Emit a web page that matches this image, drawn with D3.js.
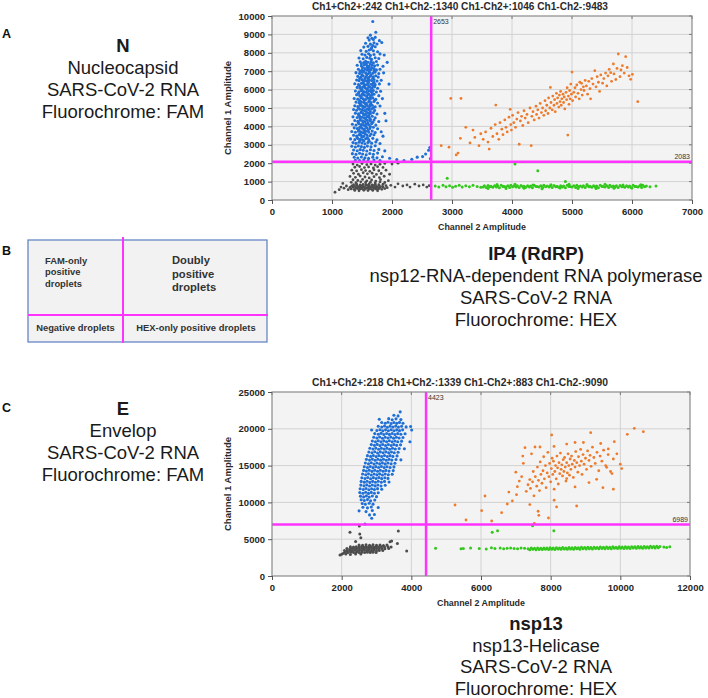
<!DOCTYPE html>
<html><head><meta charset="utf-8">
<script src="https://cdn.jsdelivr.net/npm/d3@7"></script>
<style>body{margin:0;background:#fff}svg{display:block}</style>
</head><body>
<svg id="c" width="708" height="698"></svg>
<script>
// ---------- DATA ----------
const xTicksA = [0,1000,2000,3000,4000,5000,6000,7000];
const yTicksA = [0,1000,2000,3000,4000,5000,6000,7000,8000,9000,10000];
const xTicksC = [0,2000,4000,6000,8000,10000,12000];
const yTicksC = [0,5000,10000,15000,20000,25000];
const countsA = [242,1340,1046,9483];   // Ch1+Ch2+, Ch1+Ch2-, Ch1-Ch2+, Ch1-Ch2-
const countsC = [218,1339,883,9090];
const thresholdsA = [2653,2083];        // Ch2 threshold, Ch1 threshold
const thresholdsC = [4423,6989];

// Plot A droplets [ch2, ch1, ch2, ch1, ...]
const aNeg = [1320,600,1370,580,1420,620,1460,590,1500,610,1540,570,1580,630,1620,600,1660,580,1700,620,1740,590,1780,610,1830,580,1880,620,
1300,680,1350,700,1400,660,1440,690,1480,670,1520,710,1560,650,1600,690,1640,670,1680,700,1720,660,1760,690,1800,680,1850,700,1920,670,
1330,760,1380,740,1420,780,1460,750,1500,770,1540,730,1580,790,1620,760,1660,740,1700,780,1740,750,1790,770,1840,740,1900,780,
1360,840,1410,860,1470,820,1520,850,1570,830,1620,870,1670,820,1720,850,1780,830,1850,860,
1380,520,1450,500,1530,530,1600,510,1680,520,1760,500,
1350,1950,1420,1900,1500,1980,1580,1920,1650,1960,1720,1900,1800,1940,1880,1990,
1380,1780,1460,1820,1540,1760,1610,1800,1690,1740,1760,1810,1850,1770,
1330,1620,1410,1580,1490,1650,1560,1600,1630,1560,1700,1640,1780,1590,1900,1620,
1360,1450,1440,1400,1520,1480,1590,1420,1670,1460,1740,1390,1820,1440,
1300,1280,1390,1230,1470,1300,1550,1250,1620,1200,1700,1270,1790,1220,1870,1290,
1350,1100,1430,1060,1510,1120,1580,1040,1660,1090,1730,1030,1810,1110,1940,1050,
1320,960,1400,940,1480,990,1560,950,1640,970,1720,930,1800,980,1880,950,
1050,420,1120,560,1180,900,1200,640,1240,760,1270,560,1150,700,
1980,800,2050,700,2100,880,2180,760,2250,820,2300,700,2380,860,2450,760,2520,820,2580,700,2620,780,2000,1950,2100,2000,1960,1400];

const aCh2 = [2720,760,2780,700,2850,800,2900,720,2960,780,3010,690,3060,750,3120,800,3170,710,3230,770,3290,720,3350,800,3420,740,3480,690,
3520,700,3570,680,3630,720,3680,690,3740,710,3790,670,3850,730,3900,700,3960,685,4010,715,
4070,700,4120,680,4180,720,4230,690,4290,710,4340,670,4400,730,4450,700,4510,685,4560,715,
4620,700,4670,680,4730,720,4780,690,4840,710,4890,670,4950,730,5000,700,5060,685,5110,715,
5170,700,5220,680,5280,720,5330,690,5390,710,5440,670,5500,730,5550,700,5610,685,5660,715,
5720,700,5770,680,5830,720,5880,690,5940,710,5990,670,6050,730,6100,700,6160,685,6210,715,
3540,770,3600,790,3650,750,3710,780,3760,760,3820,800,3870,740,3930,775,3980,795,4040,755,
4090,770,4150,790,4200,750,4260,780,4310,760,4370,800,4420,740,4480,775,4530,795,4590,755,
4640,770,4700,790,4750,750,4810,780,4860,760,4920,800,4970,740,5030,775,5080,795,5140,755,
5190,770,5250,790,5300,750,5360,780,5410,760,5470,800,5520,740,5580,775,5630,795,5690,755,
5740,770,5800,790,5850,750,5910,780,5960,760,6020,800,6070,740,6130,775,6180,795,6240,755,
3600,630,3750,840,3900,620,4050,850,4200,640,4350,820,4500,610,4650,830,4800,650,4950,860,5100,630,5250,840,5400,620,5550,850,5700,640,5850,820,6000,650,6150,830,6300,720,6400,760,
2920,1180,4050,1960,4430,1590,4890,1000];

const aDouble = [2820,2950,2950,2870,3070,2450,3100,2550,3140,3350,3230,3950,2980,5520,3150,5520,3300,3100,3380,3400,3450,2950,3480,3600,3350,3800,
3520,3300,3560,3700,3600,3150,3620,2770,3650,3900,3680,3450,3720,4100,3730,5160,3750,3600,3780,3300,3800,4200,3830,3850,3850,3550,3880,4350,3900,3950,3920,3700,3950,4500,3970,4930,3980,4100,3990,3800,
4010,4600,4030,4200,4060,3950,4080,4400,4100,4750,4120,3030,4140,4300,4160,4550,4180,4050,4200,4850,4220,4450,4250,4650,4270,4200,4300,5000,4320,2950,4330,4550,4350,4800,4370,4350,4400,5100,4410,4650,4430,4900,4450,4450,4470,5250,4490,4750,
4510,5000,4530,4600,4550,5400,4560,4850,4580,5150,4600,4700,4610,5550,4630,5000,4640,6120,4650,5300,4670,4900,4680,5650,4700,5150,4710,5450,4720,4800,4740,5800,4750,5250,4760,5550,4780,5050,4790,5700,4800,5350,4810,5900,4820,5150,4830,5500,4850,5750,4860,5300,4870,5600,4880,4950,4900,5850,4910,5450,4920,6100,4930,3530,4940,5650,4950,5200,4960,5950,4970,5500,4980,6300,4990,5750,
5000,6950,5010,5400,5030,5850,5050,6100,5060,5600,5080,6250,5100,5800,5120,5500,5130,6400,5150,6000,5160,6340,5170,5700,5190,6150,5200,5950,5220,6500,5240,6200,5260,5750,5280,6450,5300,6050,5310,5500,5330,6600,5350,6300,5380,7030,5400,6150,5420,6700,5440,6400,5460,5900,5480,6800,
5510,6350,5530,6600,5560,6900,5580,6200,5600,6750,5620,7100,5645,6920,5660,6450,5690,7390,5700,6850,5730,6550,5750,7150,5772,7935,5800,6700,5816,7065,5840,7300,5870,6900,5895,7790,5920,7200,5950,6750,5978,6560,6006,6830,6096,5345];

const aCh1 = [1680,9700,1730,9120,1640,8960,1600,8820,1665,8790,1720,8840,1620,8690,1690,8720,1790,8660,
1560,8520,1640,8470,1700,8540,1750,8480,1830,8560,1530,8310,1600,8350,1660,8280,1720,8330,1680,8390,
1480,8120,1570,8080,1620,8150,1690,8110,1760,8060,1650,8190,1500,7920,1550,7880,1610,7950,1640,7860,1700,7910,1800,7940,1870,7880,
1450,7720,1520,7680,1580,7750,1630,7700,1660,7640,1720,7730,1780,7690,1470,7510,1530,7470,1560,7540,1600,7490,1650,7520,1690,7460,1740,7530,1920,7480,
1420,7320,1490,7280,1540,7340,1590,7300,1620,7260,1670,7330,1710,7290,1760,7340,1850,7270,
1440,7110,1500,7080,1550,7140,1580,7060,1610,7120,1650,7090,1700,7150,1740,7070,1800,7110,
1400,6920,1460,6880,1510,6940,1560,6900,1600,6860,1630,6930,1680,6890,1720,6950,1780,6870,1860,6910,
1430,6720,1480,6680,1520,6740,1570,6700,1610,6660,1640,6730,1690,6690,1730,6750,1770,6680,
1410,6520,1450,6480,1500,6540,1540,6500,1580,6460,1620,6530,1660,6490,1700,6550,1750,6470,1820,6510,
1380,6320,1440,6280,1490,6340,1530,6300,1570,6260,1600,6330,1650,6290,1690,6350,1720,6270,1790,6310,1950,6300,
1420,6120,1470,6080,1510,6140,1550,6100,1590,6060,1630,6130,1670,6090,1710,6150,1760,6070,
1390,5920,1450,5880,1490,5940,1530,5900,1570,5860,1610,5930,1650,5890,1690,5950,1740,5870,1810,5910,
1410,5720,1460,5680,1500,5740,1540,5700,1580,5660,1620,5730,1660,5690,1700,5750,1780,5670,
1370,5520,1430,5480,1480,5540,1520,5500,1560,5460,1600,5530,1640,5490,1680,5550,1730,5470,1840,5510,
1400,5320,1450,5280,1490,5340,1530,5300,1570,5260,1610,5330,1650,5290,1700,5350,1760,5270,
1380,5120,1430,5080,1470,5140,1510,5100,1550,5060,1590,5130,1630,5090,1670,5150,1720,5070,1800,5110,
1360,4920,1410,4880,1460,4940,1500,4900,1540,4860,1580,4930,1620,4890,1660,4950,1710,4870,
1390,4720,1440,4680,1480,4740,1520,4700,1560,4660,1600,4730,1640,4690,1690,4750,1750,4670,1880,4710,
1350,4520,1420,4480,1460,4540,1500,4500,1540,4460,1580,4530,1620,4490,1670,4550,1720,4470,
1380,4320,1430,4280,1470,4340,1510,4300,1550,4260,1590,4330,1640,4290,1700,4350,1780,4270,1900,4310,
1340,4120,1400,4080,1450,4140,1490,4100,1530,4060,1570,4130,1610,4090,1660,4150,1730,4070,
1370,3920,1420,3880,1460,3940,1500,3900,1540,3860,1580,3930,1630,3890,1690,3950,1760,3870,
1330,3720,1390,3680,1440,3740,1480,3700,1520,3660,1560,3730,1610,3690,1670,3750,1720,3670,1820,3710,
1360,3520,1410,3480,1450,3540,1490,3500,1530,3460,1580,3530,1630,3490,1700,3550,1850,3470,
1310,3320,1380,3280,1430,3340,1470,3300,1510,3260,1560,3330,1610,3290,1680,3350,1750,3270,
1350,3120,1400,3080,1450,3140,1500,3100,1550,3060,1600,3130,1660,3090,1730,3150,1800,3070,
1330,2920,1390,2880,1440,2940,1490,2900,1540,2860,1590,2930,1650,2890,1720,2950,
1360,2720,1420,2680,1470,2740,1520,2700,1580,2660,1640,2730,1700,2690,1780,2750,1880,2670,
1340,2520,1400,2480,1460,2540,1510,2500,1570,2460,1630,2530,1690,2490,1760,2550,
1370,2320,1430,2280,1490,2340,1550,2300,1610,2260,1680,2330,1750,2290,1840,2350,1960,2270,
1390,2160,1460,2140,1530,2180,1600,2130,1700,2170,1800,2150,
2080,2200,2200,2150,2330,2210,2420,2330,2510,2360,2560,2500,2610,2700,2630,2850,2640,2250,
1490,7400,1570,7410,1640,7390,1510,7200,1590,7210,1660,7190,1470,7000,1530,7010,1620,6990,1700,7020,
1500,6800,1580,6810,1650,6790,1460,6600,1550,6610,1600,6590,1680,6620,1520,6400,1610,6410,1700,6390,
1460,6200,1540,6210,1610,6190,1680,6220,1500,6000,1580,6010,1650,5990,1440,5800,1520,5810,1600,5790,1670,5820,
1490,5600,1580,5610,1640,5590,1460,5400,1540,5410,1620,5390,1710,5420,1480,5200,1560,5210,1640,5190,
1440,5000,1520,5010,1610,4990,1690,5020,1490,4800,1570,4810,1640,4790,1450,4600,1530,4610,1610,4590,
1470,4400,1560,4410,1640,4390,1440,4200,1520,4210,1600,4190,1680,4220,1480,4000,1560,4010,1640,3990,
1450,3800,1530,3810,1600,3790,1470,3600,1550,3610,1650,3590,1420,3400,1500,3410,1590,3390,1460,3200,1530,3210,1620,3190];

// Plot C droplets
const cNeg = [2500,4220,2600,4180,2700,4240,2800,4190,2900,4230,3000,4170,3100,4220,3200,4160,3300,4210,
2250,3970,2340,3930,2420,3990,2500,3940,2570,3980,2640,3920,2710,3970,2780,3930,2850,3990,2920,3940,2990,3980,3060,3930,3140,3970,3230,3940,3330,3990,3420,3950,
2150,3720,2230,3680,2300,3730,2370,3690,2440,3740,2510,3680,2580,3720,2650,3690,2720,3740,2790,3680,2860,3730,2930,3690,3000,3740,3070,3680,3150,3720,3240,3700,3350,3750,
2080,3470,2160,3430,2230,3480,2300,3440,2370,3490,2440,3430,2510,3470,2580,3440,2650,3490,2720,3430,2790,3480,2860,3440,2930,3490,3000,3430,3080,3470,3180,3450,
2100,3220,2180,3180,2260,3230,2340,3190,2420,3240,2500,3180,2580,3220,2660,3190,2740,3240,2820,3180,2900,3230,2990,3200,
2000,2950,2120,2980,2250,2920,2400,2990,2550,3000,
2239,5940,2507,6790,2520,5700,2550,5200,3388,4660,3435,4750,3627,6114,3867,3400,1952,2850,2050,3100,3600,4400,2400,4700];

const cCh2 = [4697,3760,5426,3700,5493,3740,5700,3800,5950,3720,6150,3680,6300,3850,6400,3740,6550,3800,6650,3700,6750,3760,6850,3820,6950,3740,7050,3690,7150,3800,7250,3760,7350,3700,
7400,3580,7490,3620,7580,3570,7670,3610,7760,3600,7850,3640,7940,3590,8030,3650,8120,3610,8210,3660,
8300,3620,8390,3670,8480,3630,8570,3680,8660,3640,8750,3690,8840,3650,8930,3700,9020,3660,9110,3710,
9200,3680,9290,3720,9380,3690,9470,3740,9560,3700,9650,3750,9740,3710,9830,3760,9920,3730,10010,3770,
10100,3740,10190,3780,10280,3750,10370,3800,10460,3760,10550,3810,10640,3780,10730,3820,10820,3790,10910,3840,11000,3810,11090,3850,
7445,3790,7535,3760,7625,3810,7715,3770,7805,3820,7895,3790,7985,3840,8075,3800,8165,3850,8255,3810,
8345,3860,8435,3820,8525,3870,8615,3840,8705,3880,8795,3850,8885,3900,8975,3860,9065,3910,9155,3870,
9245,3920,9335,3880,9425,3930,9515,3900,9605,3940,9695,3910,9785,3960,9875,3920,9965,3970,10055,3930,
10145,3980,10235,3950,10325,3990,10415,3960,10505,4010,10595,3970,10685,4020,10775,3990,10865,4030,10955,4000,11045,4040,11135,4000,
11250,3950,11420,3980,11330,3880,
6322,5933,6475,6160,7480,6840,8092,6160];

const cDouble = [10401,20060,10660,19610,10200,19250,9149,19470,8029,19160,7263,17430,7550,17530,7693,17530,8096,17600,8460,17930,8700,18140,8940,18140,9436,18000,9827,18250,9654,17260,
7215,15310,7167,13490,7044,12130,6114,10870,5254,9650,5569,7610,6019,8880,6306,7470,7530,7160,7937,7880,8460,13240,8746,9510,9320,13130,9608,14770,10040,14590,9760,13910,
6593,8610,6754,9780,7020,11050,7400,9700,7640,8800,7660,8240,8170,9380,
7300,11500,7350,12400,7400,13100,7420,11900,7480,12800,7500,14200,7520,10900,7560,13500,7600,12200,7620,14800,
7650,13000,7680,11600,7700,15500,7720,13800,7750,12600,7780,14300,7800,16200,7820,13200,7850,15000,7870,12000,
7900,14000,7920,16800,7950,13500,7970,15300,8000,12800,8020,14600,8040,16000,8060,13800,8080,15600,8100,11800,
8120,14200,8140,15000,8160,13200,8180,16300,8200,14700,8220,12500,8240,15400,8260,13900,8280,16700,8300,14500,
8320,15100,8340,13600,8360,15800,8380,14200,8400,16100,8420,14800,8440,12900,8460,15400,8480,14000,8500,16600,
8520,15000,8540,13700,8560,15900,8580,14500,8600,16300,8620,15200,8650,13400,8680,15700,8700,14800,8720,16900,
8750,15400,8780,14100,8800,16200,8830,15000,8860,17200,8880,15600,8900,13800,8930,16500,8960,15200,9000,16000,
9030,14500,9060,17000,9100,15700,9130,16400,9160,14900,9200,17500,9240,16100,9280,15300,9330,16800,9380,14300,
9420,16300,9470,15600,9520,17100,9580,15000,9650,16500,9720,14200,9800,15900,9900,16600,10000,15200,6900,10200,
7100,12900,7000,14100,6800,11400,7200,16300,7450,16600,8100,10300,8700,12100,9100,12700,9500,12000,9800,11800];

const cCh1 = [3680,22300,3500,21850,3620,21750,
3080,21300,3350,21380,3450,21220,3560,21350,3700,21250,
3150,20850,3250,20750,3330,20880,3420,20720,3500,20860,3580,20740,3660,20870,3760,20760,
3050,20350,3150,20250,3230,20380,3310,20220,3390,20360,3470,20240,3550,20370,3630,20230,3720,20350,3850,20260,3980,20320,
2860,19840,3010,19760,3100,19880,3180,19720,3260,19860,3340,19740,3420,19870,3500,19730,3580,19850,3660,19750,3750,19860,4010,19840,
2950,19350,3050,19250,3130,19380,3210,19220,3290,19360,3370,19240,3450,19370,3530,19230,3610,19350,3700,19260,3820,19320,
2920,18850,3010,18750,3090,18880,3170,18720,3250,18860,3330,18740,3410,18870,3490,18730,3570,18850,3650,18750,3760,18820,
2880,18350,2970,18250,3050,18380,3130,18220,3210,18360,3290,18240,3370,18370,3450,18230,3530,18350,3610,18250,3720,18320,3960,18250,
2850,17850,2940,17750,3020,17880,3100,17720,3180,17860,3260,17740,3340,17870,3420,17730,3500,17850,3580,17750,3690,17820,
2810,17350,2900,17250,2980,17380,3060,17220,3140,17360,3220,17240,3300,17370,3380,17230,3460,17350,3540,17250,3650,17320,3800,17280,
2780,16850,2870,16750,2950,16880,3030,16720,3110,16860,3190,16740,3270,16870,3350,16730,3430,16850,3510,16750,3620,16820,
2740,16350,2830,16250,2910,16380,2990,16220,3070,16360,3150,16240,3230,16370,3310,16230,3390,16350,3470,16250,3590,16320,
2710,15850,2800,15750,2880,15880,2960,15720,3040,15860,3120,15740,3200,15870,3280,15730,3360,15850,3440,15750,3560,15820,3700,15780,
2680,15350,2770,15250,2850,15380,2930,15220,3010,15360,3090,15240,3170,15370,3250,15230,3330,15350,3420,15250,3530,15320,
2650,14850,2740,14750,2820,14880,2900,14720,2980,14860,3060,14740,3140,14870,3220,14730,3300,14850,3390,14750,3500,14820,
2630,14350,2710,14250,2790,14380,2870,14220,2950,14360,3030,14240,3110,14370,3190,14230,3270,14350,3360,14250,3480,14320,
2600,13850,2690,13750,2770,13880,2850,13720,2930,13860,3010,13740,3090,13870,3170,13730,3250,13850,3340,13750,3450,13820,
2580,13350,2670,13250,2750,13380,2830,13220,2910,13360,2990,13240,3070,13370,3150,13230,3240,13350,3330,13260,
2560,12850,2650,12750,2730,12880,2810,12720,2890,12860,2970,12740,3050,12870,3140,12730,3230,12850,3360,12780,
2550,12350,2640,12250,2720,12380,2800,12220,2880,12360,2960,12240,3040,12370,3130,12230,3250,12320,
2530,11850,2620,11750,2700,11880,2780,11720,2860,11860,2940,11740,3030,11870,3150,11780,
2520,11350,2610,11250,2690,11380,2770,11220,2850,11360,2940,11240,3050,11320,
2540,10850,2630,10750,2710,10880,2790,10720,2880,10860,3000,10780,
2560,10350,2650,10250,2740,10380,2830,10220,2950,10320,
2590,9850,2680,9750,2790,9880,2900,9760,
2610,9350,2740,9250,2850,9380,3050,9300,
2500,8850,2700,8750,2880,8900,
2800,8300,2940,8350,2862,7840,2670,7065];

const boxLabels = ["FAM-only|positive|droplets","Doubly|positive|droplets","Negative droplets","HEX-only positive droplets"];
const textA = ["N","Nucleocapsid","SARS-CoV-2 RNA","Fluorochrome: FAM"];
const textA2 = ["IP4 (RdRP)","nsp12-RNA-dependent RNA polymerase","SARS-CoV-2 RNA","Fluorochrome: HEX"];
const textC = ["E","Envelop","SARS-CoV-2 RNA","Fluorochrome: FAM"];
const textC2 = ["nsp13","nsp13-Helicase","SARS-CoV-2 RNA","Fluorochrome: HEX"];

// ---------- DRAWING ----------
const svg = d3.select('#c');
const FONT = "'Liberation Sans', Arial, sans-serif";
const COL = {neg:'#4d4d4d', ch2:'#33c81c', dbl:'#ee7b2b', ch1:'#1f6fd6', mag:'#ff33ff'};
function pairs(a){const r=[];for(let i=0;i<a.length;i+=2)r.push([a[i],a[i+1]]);return r;}

function drawPlot(P){
  const g = svg.append('g');
  const x = d3.scaleLinear().domain([0,P.xMax]).range([P.left,P.right]);
  const y = d3.scaleLinear().domain([0,P.yMax]).range([P.bottom,P.top]);
  g.append('rect').attr('x',P.left).attr('y',P.top).attr('width',P.right-P.left).attr('height',P.bottom-P.top).attr('fill','#f3f3f3');
  g.selectAll('line.gx').data(P.xTicks.slice(1,-1)).join('line').attr('class','gx')
    .attr('x1',d=>x(d)).attr('x2',d=>x(d)).attr('y1',P.top).attr('y2',P.bottom).attr('stroke','#d2d2d2').attr('stroke-width',1);
  g.selectAll('line.gy').data(P.yTicks.slice(1,-1)).join('line').attr('class','gy')
    .attr('y1',d=>y(d)).attr('y2',d=>y(d)).attr('x1',P.left).attr('x2',P.right).attr('stroke','#d2d2d2').attr('stroke-width',1);
  g.selectAll('line.tt').data(P.xTicks).join('line').attr('class','tt')
    .attr('x1',d=>x(d)).attr('x2',d=>x(d)).attr('y1',P.top).attr('y2',P.top+3).attr('stroke','#777');
  g.selectAll('line.tr').data(P.yTicks).join('line').attr('class','tr')
    .attr('y1',d=>y(d)).attr('y2',d=>y(d)).attr('x1',P.right-3).attr('x2',P.right).attr('stroke','#777');
  P.clusters.forEach(c=>{
    g.append('g').selectAll('circle').data(pairs(c.data)).join('circle')
      .attr('cx',d=>x(d[0])).attr('cy',d=>y(d[1])).attr('r',c.r).attr('fill',c.color);
  });
  g.append('line').attr('x1',x(P.th[0])).attr('x2',x(P.th[0])).attr('y1',P.top).attr('y2',P.bottom)
    .attr('stroke',COL.mag).attr('stroke-width',2.5);
  g.append('line').attr('x1',P.left).attr('x2',P.right).attr('y1',y(P.th[1])).attr('y2',y(P.th[1]))
    .attr('stroke',COL.mag).attr('stroke-width',2.5);
  g.append('text').attr('x',x(P.th[0])+2).attr('y',P.top+8).text(P.th[0])
    .attr('font-family',FONT).attr('font-size',7).attr('fill','#333');
  g.append('text').attr('x',P.right-2).attr('y',y(P.th[1])-2.5).attr('text-anchor','end').text(P.th[1])
    .attr('font-family',FONT).attr('font-size',7).attr('fill','#333');
  g.append('rect').attr('x',P.left).attr('y',P.top).attr('width',P.right-P.left).attr('height',P.bottom-P.top)
    .attr('fill','none').attr('stroke','#8a8a8a').attr('stroke-width',1.2);
  const ax = g.append('g').attr('transform',`translate(0,${P.bottom})`)
    .call(d3.axisBottom(x).tickValues(P.xTicks).tickSize(4).tickPadding(4).tickFormat(d3.format('d')));
  const ay = g.append('g').attr('transform',`translate(${P.left},0)`)
    .call(d3.axisLeft(y).tickValues(P.yTicks).tickSize(4).tickPadding(3).tickFormat(d3.format('d')));
  [ax,ay].forEach(a=>{
    a.select('.domain').remove();
    a.selectAll('line').attr('stroke','#555');
    a.selectAll('text').attr('font-family',FONT).attr('font-size',9.5).attr('font-weight','bold').attr('fill','#262626');
  });
  const c = P.counts;
  g.append('text').attr('x',460).attr('y',P.top-6).attr('text-anchor','middle')
    .attr('font-family',FONT).attr('font-size',10.5).attr('font-weight','bold').attr('fill','#2a2a2a')
    .attr('textLength',296).attr('lengthAdjust','spacingAndGlyphs')
    .text(`Ch1+Ch2+:${c[0]}  Ch1+Ch2-:${c[1]}  Ch1-Ch2+:${c[2]}  Ch1-Ch2-:${c[3]}`);
  g.append('text').attr('x',(P.left+P.right)/2).attr('y',P.bottom+30).attr('text-anchor','middle')
    .attr('font-family',FONT).attr('font-size',9).attr('font-weight','bold').attr('fill','#2a2a2a')
    .attr('textLength',88).attr('lengthAdjust','spacingAndGlyphs').text('Channel 2 Amplitude');
  const cy = (P.top+P.bottom)/2;
  g.append('text').attr('transform',`translate(231,${cy}) rotate(-90)`).attr('text-anchor','middle')
    .attr('font-family',FONT).attr('font-size',9.5).attr('font-weight','bold').attr('fill','#2a2a2a')
    .attr('textLength',94).attr('lengthAdjust','spacingAndGlyphs').text('Channel 1 Amplitude');
}

drawPlot({left:272,right:692,top:16,bottom:200,xMax:7000,yMax:10000,xTicks:xTicksA,yTicks:yTicksA,
  th:thresholdsA,counts:countsA,
  clusters:[{data:aNeg,color:COL.neg,r:1.4},{data:aCh2,color:COL.ch2,r:1.5},{data:aDouble,color:COL.dbl,r:1.4},{data:aCh1,color:COL.ch1,r:1.55}]});
drawPlot({left:272,right:690,top:392,bottom:576,xMax:12000,yMax:25000,xTicks:xTicksC,yTicks:yTicksC,
  th:thresholdsC,counts:countsC,
  clusters:[{data:cNeg,color:COL.neg,r:1.5},{data:cCh2,color:COL.ch2,r:1.5},{data:cDouble,color:COL.dbl,r:1.4},{data:cCh1,color:COL.ch1,r:1.55}]});

function block(lines,cx,y0,dy){
  lines.forEach((t,i)=>{
    svg.append('text').attr('x',cx).attr('y',y0+i*dy).attr('text-anchor','middle')
      .attr('font-family',FONT).attr('font-size',18.5).attr('font-weight',i===0?'bold':'normal')
      .attr('fill','#1a1a1a').text(t);
  });
}
block(textA,123,52,22);
block(textA2,536,260,22);
block(textC,123,415,22);
block(textC2,536,630,21.7);

[["A",38],["B",255],["C",412]].forEach(([t,y])=>{
  svg.append('text').attr('x',2).attr('y',y).attr('font-family',FONT).attr('font-size',12.5)
    .attr('font-weight','bold').attr('fill','#111').text(t);
});

const B = svg.append('g');
B.append('rect').attr('x',28).attr('y',240).attr('width',239).attr('height',102).attr('fill','#f2f2f2')
  .attr('stroke','#5a7cc0').attr('stroke-width',1.2);
B.append('line').attr('x1',123).attr('x2',123).attr('y1',237).attr('y2',343).attr('stroke',COL.mag).attr('stroke-width',2);
B.append('line').attr('x1',28).attr('x2',268).attr('y1',315).attr('y2',315).attr('stroke',COL.mag).attr('stroke-width',2);
function bText(str,x,y0,dy,size,anchor){
  str.split('|').forEach((t,i)=>{
    B.append('text').attr('x',x).attr('y',y0+i*dy).attr('text-anchor',anchor)
      .attr('font-family',FONT).attr('font-size',size).attr('font-weight','bold').attr('fill','#333').text(t);
  });
}
bText(boxLabels[0],45,263.5,11.7,9.4,'start');
bText(boxLabels[1],172,264,13.5,11.2,'start');
bText(boxLabels[2],75.5,330.5,0,9.4,'middle');
bText(boxLabels[3],196,330.5,0,9.4,'middle');
</script></body></html>
